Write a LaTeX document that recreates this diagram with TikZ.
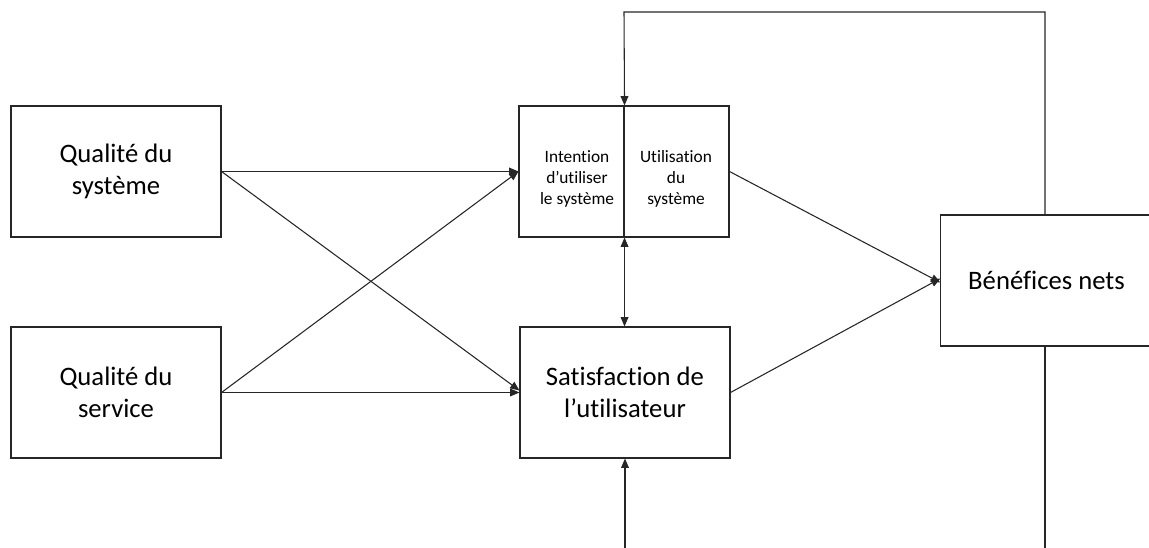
\documentclass[tikz,border=0pt]{standalone}
\usepackage{fontspec}
\setmainfont{Carlito}[Ligatures=NoCommon]
\usetikzlibrary{arrows.meta}
\begin{document}
\begin{tikzpicture}[x=0.75pt,y=-0.75pt,
  line width=0.8pt,
  box/.style={draw=black!85, rectangle, inner sep=0pt, align=center,
    minimum width=157.5pt, minimum height=98.25pt,
    font=\fontsize{20}{23.5}\selectfont},
  half/.style={draw=black!85, rectangle, inner sep=0pt, align=center,
    minimum width=78.75pt, minimum height=98.25pt,
    font=\fontsize{13}{16}\selectfont},
  link/.style={draw=black!85, -{Triangle[length=7pt,width=5.8pt]}},
  twoway/.style={draw=black!85, {Triangle[length=7pt,width=5.8pt]}-{Triangle[length=7pt,width=5.8pt]}}]
\useasboundingbox (0,0) rectangle (1149,548);

% source boxes
\node[box] (qsys) at (116,171.5) {Qualité du\\système};
\node[box] (qserv) at (116,392.5) {Qualité du\\service};

% split box: intention / use
\node[half] (intent) at (571.5,171.5) {};
\node[half] (usage) at (676.5,171.5) {};
\node[font=\fontsize{13}{16}\selectfont, align=center] (intenttxt) at (577,179) {Intention\\d’utiliser\\le système};
\node[font=\fontsize{13}{16}\selectfont, align=center] (usagetxt) at (676,179) {Utilisation\\du\\système};

% satisfaction and net benefits (right side runs past the page edge)
\node[box] (satis) at (625,392.5) {Satisfaction de\\l’utilisateur};
\node[box, minimum width=158.5pt] (benef) at (1046.5,280.5) {Bénéfices nets};

% free ends of the loop lines
\coordinate (topright) at (1045,12);
\coordinate (topleft) at (624,12);
\coordinate (lowright) at (1045,548);
\coordinate (lowleft) at (625,548);

% quality links
\draw[link] (qsys.east) -- (intent.west);
\draw[link] (qsys.east) -- ([yshift=1.5pt]satis.west);
\draw[link] (qserv.east) -- (intent.west);
\draw[link] (qserv.east) -- (satis.west);

% to net benefits
\draw[link] (usage.east) -- ([yshift=-1.5pt]benef.west);
\draw[link] (satis.east) -- ([yshift=1.5pt]benef.west);

% intention <-> satisfaction
\draw[twoway] (intent.south east) -- (intent.south east |- satis.north);

% feedback loop from net benefits
\draw[link] (1045,215) -- (topright) -- (topleft) -- (intent.north east);
\draw[draw=black!85] (1045,346) -- (lowright);
\draw[link] (lowleft) -- (satis.south);
\end{tikzpicture}
\end{document}
